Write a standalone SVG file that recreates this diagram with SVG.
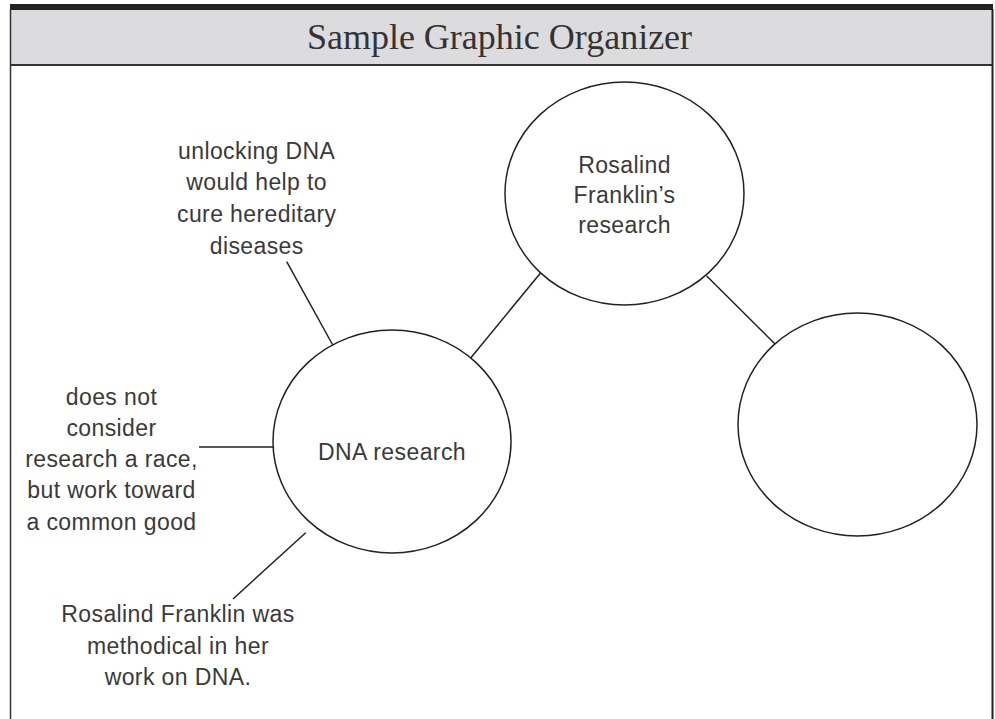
<svg xmlns="http://www.w3.org/2000/svg" width="995" height="719" viewBox="0 0 995 719">
<style>
.node{fill:#fff;stroke:#222;stroke-width:1.5}
.conn line{stroke:#222;stroke-width:1.5}
.t{font-family:"Liberation Sans","DejaVu Sans",sans-serif;font-size:23px;letter-spacing:0.4px;fill:#3a3a3a;text-anchor:middle}
.title{font-family:"Liberation Serif","DejaVu Serif",serif;font-size:36px;fill:#333;text-anchor:middle}
</style>
<rect x="0" y="0" width="995" height="719" fill="#fff"/>
<g id="frame">
<rect x="10" y="9" width="983" height="56" fill="#dcdcde"/>
<rect x="10" y="4" width="983" height="6" fill="#222"/>
<line x1="10" y1="65" x2="993" y2="65" stroke="#333" stroke-width="2"/>
<line x1="10.5" y1="9" x2="10.5" y2="719" stroke="#333" stroke-width="1.5"/>
<line x1="992.5" y1="9" x2="992.5" y2="719" stroke="#222" stroke-width="2"/>
<text class="title" x="499.5" y="49">Sample Graphic Organizer</text>
</g>
<g id="connectors" class="conn">
<line x1="540.7" y1="272.7" x2="470.7" y2="358"/>
<line x1="706.7" y1="276" x2="775" y2="344"/>
<line x1="286.7" y1="261.7" x2="333.3" y2="346"/>
<line x1="199" y1="447" x2="273" y2="447"/>
<line x1="305.7" y1="532.7" x2="233" y2="599"/>
</g>
<g id="node-franklin">
<ellipse class="node" cx="624.5" cy="193.5" rx="119.5" ry="111.5"/>
<text class="t" x="624.5" y="173">Rosalind</text>
<text class="t" x="624.5" y="203">Franklin’s</text>
<text class="t" x="624.5" y="233">research</text>
</g>
<g id="node-empty">
<ellipse class="node" cx="857.5" cy="424.5" rx="119.5" ry="111.5"/>
</g>
<g id="node-dna">
<ellipse class="node" cx="392" cy="441.5" rx="119" ry="111.5"/>
<text class="t" x="392" y="460">DNA research</text>
</g>
<g id="label-unlocking">
<text class="t" x="256.7" y="159">unlocking DNA</text>
<text class="t" x="256.7" y="190">would help to</text>
<text class="t" x="256.7" y="222">cure hereditary</text>
<text class="t" x="256.7" y="254">diseases</text>
</g>
<g id="label-race">
<text class="t" x="111.5" y="405">does not</text>
<text class="t" x="111.5" y="436">consider</text>
<text class="t" x="111.5" y="467">research a race,</text>
<text class="t" x="111.5" y="498">but work toward</text>
<text class="t" x="111.5" y="530">a common good</text>
</g>
<g id="label-methodical">
<text class="t" x="178" y="622">Rosalind Franklin was</text>
<text class="t" x="178" y="654">methodical in her</text>
<text class="t" x="178" y="685">work on DNA.</text>
</g>
</svg>
